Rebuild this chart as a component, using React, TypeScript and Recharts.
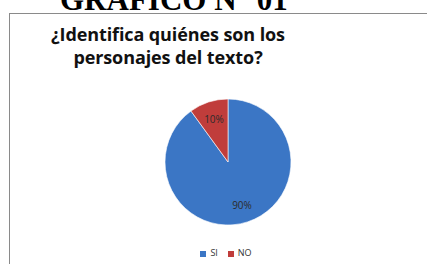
import React from 'react';
import { PieChart, Pie, Cell, Legend } from 'recharts';

const categories = ['SI', 'NO'];
const percents = [90, 10];
const colors = ['#3B76C5', '#C03D3B'];

const data = categories.map((name, i) => ({ name, value: percents[i] }));

const RAD = Math.PI / 180;

const renderLabel = (props: any) => {
  const { cx, cy, midAngle, outerRadius, value } = props;
  const r = outerRadius * 0.72;
  const x = cx + r * Math.cos(-midAngle * RAD);
  const y = cy + r * Math.sin(-midAngle * RAD);
  return (
    <text x={x} y={y} fill="#2b2b2b" fontSize={10} fontFamily="Open Sans, sans-serif" textAnchor="middle" dominantBaseline="central">
      {`${value}%`}
    </text>
  );
};

const App: React.FC = () => {
  return (
    <div style={{ position: 'fixed', left: 0, top: 0, width: 427, height: 264, background: '#fff', overflow: 'hidden' }}>
      <div
        style={{
          position: 'absolute', left: 60, top: -18, width: 260, textAlign: 'left',
          fontFamily: '"Liberation Serif", serif', fontWeight: 'bold', fontSize: 31, whiteSpace: 'nowrap',
        }}
      >
        GRAFICO N° 01
      </div>
      <div style={{ position: 'absolute', left: 9, top: 13, width: 440, height: 270, border: '1px solid #8a8a8a' }} />
      <div
        style={{
          position: 'absolute', left: 18, top: 23, width: 300, textAlign: 'center',
          fontFamily: '"Open Sans", sans-serif', fontWeight: 'bold', fontSize: 18, lineHeight: '23px', color: '#111',
          letterSpacing: -0.1,
        }}
      >
        ¿Identifica quiénes son los<br />personajes del texto?
      </div>
      <div style={{ position: 'absolute', left: 0, top: 0 }}>
        <PieChart width={427} height={264}>
          <Pie
            data={data}
            dataKey="value"
            nameKey="name"
            cx={223}
            cy={157}
            outerRadius={63}
            startAngle={90}
            endAngle={-270}
            stroke="#ffffff"
            strokeWidth={0.6}
            label={renderLabel}
            labelLine={false}
            isAnimationActive={false}
          >
            {data.map((d, i) => (
              <Cell key={d.name} fill={colors[i]} />
            ))}
          </Pie>
          <Legend
            layout="horizontal"
            iconType="square"
            iconSize={6}
            itemSorter={(item: any) => categories.indexOf(item.value)}
            wrapperStyle={{ position: 'absolute', left: 171, top: 246, width: 120, fontFamily: 'Open Sans, sans-serif', fontSize: 9 }}
            formatter={(value: string) => <span style={{ color: '#333' }}>{value}</span>}
          />
        </PieChart>
      </div>
    </div>
  );
};

export default App;
